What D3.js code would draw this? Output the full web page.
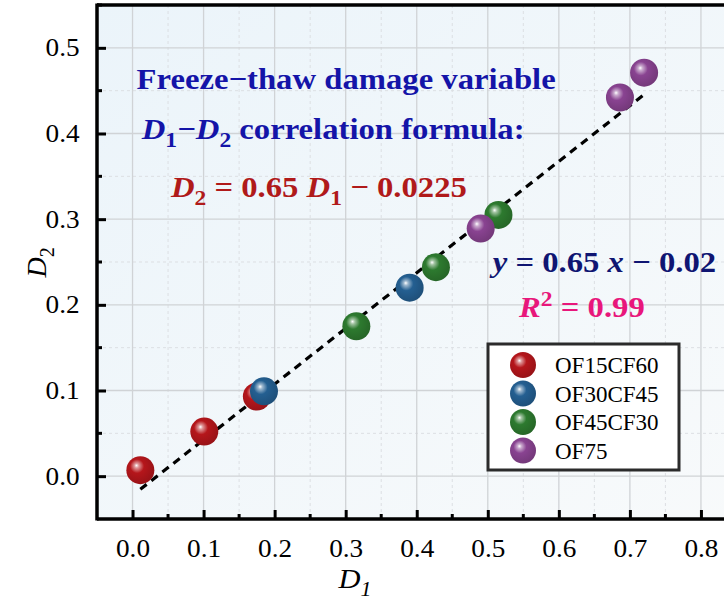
<!DOCTYPE html>
<html>
<head>
<meta charset="utf-8">
<script src="https://cdn.jsdelivr.net/npm/d3@7"></script>
<style>
  body { margin: 0; background: #fff; }
  svg text { font-family: 'Liberation Serif'; }
</style>
</head>
<body>
<script>
// data
var groups = ["OF15CF60", "OF30CF45", "OF45CF30", "OF75"];
var colors = ["#b5161b", "#245f91", "#2d7a2f", "#894391"];
var d1_OF15CF60 = [0.011, 0.101, 0.175];
var d2_OF15CF60 = [0.007, 0.052, 0.093];
var d1_OF30CF45 = [0.185, 0.39];
var d2_OF30CF45 = [0.099, 0.22];
var d1_OF45CF30 = [0.315, 0.427, 0.515];
var d2_OF45CF30 = [0.175, 0.244, 0.305];
var d1_OF75 = [0.49, 0.686, 0.72];
var d2_OF75 = [0.289, 0.442, 0.471];
var xTicks = [0, 0.1, 0.2, 0.3, 0.4, 0.5, 0.6, 0.7, 0.8];
var yTicks = [0, 0.1, 0.2, 0.3, 0.4, 0.5];
var slope = 0.65, intercept = -0.0225;

var series = [
  { name: groups[0], x: d1_OF15CF60, y: d2_OF15CF60 },
  { name: groups[1], x: d1_OF30CF45, y: d2_OF30CF45 },
  { name: groups[2], x: d1_OF45CF30, y: d2_OF45CF30 },
  { name: groups[3], x: d1_OF75, y: d2_OF75 }
];

var FONT = "Liberation Serif";
var SX = 1.09; // the original text is a bit wide
var W = 724, H = 602;
var margin = { left: 97, top: 5, right: -48, bottom: 83 };
var width = W - margin.left - margin.right,
  height = H - margin.top - margin.bottom;

var svg = d3.select("body").append("svg")
  .attr("width", W).attr("height", H)
  .attr("font-family", FONT);

var defs = svg.append("defs");
var bg = defs.append("linearGradient").attr("id", "bg")
  .attr("x1", "0%").attr("y1", "0%").attr("x2", "100%").attr("y2", "100%");
bg.append("stop").attr("offset", "0%").attr("stop-color", "#ebf4fa");
bg.append("stop").attr("offset", "100%").attr("stop-color", "#f8fafb");

groups.forEach(function (g, i) {
  var c = d3.color(colors[i]);
  var rg = defs.append("radialGradient").attr("id", "ball" + i)
    .attr("cx", "0.42").attr("cy", "0.4").attr("r", "0.62")
    .attr("fx", "0.36").attr("fy", "0.33");
  rg.append("stop").attr("offset", "0").attr("stop-color", "#ffffff");
  rg.append("stop").attr("offset", "0.13").attr("stop-color", d3.interpolateRgb("#fff", c)(0.45));
  rg.append("stop").attr("offset", "0.4").attr("stop-color", c.formatHex());
  rg.append("stop").attr("offset", "1").attr("stop-color", c.darker(0.5).formatHex());
});

var g = svg.append("g")
  .attr("transform", "translate(" + margin.left + "," + margin.top + ")");

var x = d3.scaleLinear().domain([-0.05, 0.9]).range([0, width]);
var y = d3.scaleLinear().domain([-0.05, 0.55]).range([height, 0]);

g.append("rect").attr("width", width).attr("height", height).attr("fill", "url(#bg)");

// grid
var minorX = d3.range(-0.05, 0.9, 0.1), minorY = d3.range(-0.05, 0.55, 0.1);
g.append("g").selectAll("line").data(minorX).enter().append("line")
  .attr("x1", x).attr("x2", x).attr("y1", 0).attr("y2", height)
  .attr("stroke", "#dcdfe3").attr("stroke-dasharray", "3,3");
g.append("g").selectAll("line").data(minorY).enter().append("line")
  .attr("y1", y).attr("y2", y).attr("x1", 0).attr("x2", width)
  .attr("stroke", "#dcdfe3").attr("stroke-dasharray", "3,3");
g.append("g").selectAll("line").data(xTicks).enter().append("line")
  .attr("x1", x).attr("x2", x).attr("y1", 0).attr("y2", height)
  .attr("stroke", "#d0d3d6").attr("stroke-width", 1.3);
g.append("g").selectAll("line").data(yTicks).enter().append("line")
  .attr("y1", y).attr("y2", y).attr("x1", 0).attr("x2", width)
  .attr("stroke", "#d0d3d6").attr("stroke-width", 1.3);

// axes (ticks pointing inward)
var xAxis = g.append("g").attr("transform", "translate(0," + height + ")")
  .call(d3.axisBottom(x).tickValues(xTicks).tickFormat(d3.format(".1f"))
    .tickSizeInner(-9).tickSizeOuter(0).tickPadding(20));
var yAxis = g.append("g")
  .call(d3.axisLeft(y).tickValues(yTicks).tickFormat(d3.format(".1f"))
    .tickSizeInner(-9).tickSizeOuter(0).tickPadding(16));
[xAxis, yAxis].forEach(function (a) {
  a.attr("font-family", FONT);
  a.select(".domain").remove();
  a.selectAll("line").attr("stroke", "#000").attr("stroke-width", 3);
  a.selectAll("text").attr("font-size", 25).attr("fill", "#000")
    .attr("font-family", FONT)
    .attr("transform", "scale(" + SX + ",1)");
});
// minor ticks
g.append("g").selectAll("line").data(minorX.slice(1)).enter().append("line")
  .attr("x1", x).attr("x2", x).attr("y1", height).attr("y2", height - 5)
  .attr("stroke", "#000").attr("stroke-width", 3);
g.append("g").selectAll("line").data(minorY.slice(1)).enter().append("line")
  .attr("y1", y).attr("y2", y).attr("x1", 0).attr("x2", 5)
  .attr("stroke", "#000").attr("stroke-width", 3);

// frame
g.append("line").attr("x1", 0).attr("x2", 0).attr("y1", -1.5).attr("y2", height + 1.5)
  .attr("stroke", "#000").attr("stroke-width", 3.5);
g.append("line").attr("x1", 0).attr("x2", width).attr("y1", height).attr("y2", height)
  .attr("stroke", "#000").attr("stroke-width", 3.5);
g.append("line").attr("x1", 0).attr("x2", width).attr("y1", 0).attr("y2", 0)
  .attr("stroke", "#000").attr("stroke-width", 3.5);

// fit line
var allX = [].concat(d1_OF15CF60, d1_OF30CF45, d1_OF45CF30, d1_OF75);
var xr = d3.extent(allX);
g.append("line")
  .attr("x1", x(xr[0])).attr("y1", y(slope * xr[0] + intercept))
  .attr("x2", x(xr[1])).attr("y2", y(slope * xr[1] + intercept))
  .attr("stroke", "#000").attr("stroke-width", 3.2).attr("stroke-dasharray", "8,6");

// points
series.forEach(function (s, i) {
  g.append("g").selectAll("circle").data(s.x).enter().append("circle")
    .attr("cx", function (d) { return x(d); })
    .attr("cy", function (d, j) { return y(s.y[j]); })
    .attr("r", 14)
    .attr("fill", "url(#ball" + i + ")");
});

// annotations
function richText(parent, px, py, parts, rot) {
  var sel = parent.append("text")
    .attr("transform", "translate(" + px + "," + py + ")" + (rot ? " rotate(-90)" : " scale(" + SX + ",1)"))
    .attr("font-family", FONT);
  parts.forEach(function (p) {
    var t = sel.append("tspan").text(p.t);
    if (p.i) t.attr("font-style", "italic");
    if (p.sub) t.attr("dy", 8).attr("font-size", "0.72em");
    if (p.sup) t.attr("dy", -11).attr("font-size", "0.72em");
    if (p.back) t.attr("dy", p.back);
  });
  return sel;
}
richText(g, x(0.0) + 4, 84, [{ t: "Freeze\u2212thaw damage variable" }])
  .attr("font-size", 30).attr("font-weight", "bold").attr("fill", "#1414a8");
richText(g, x(0.013), 134, [{ t: "D", i: true }, { t: "1", sub: true }, { t: "\u2212", back: -8 }, { t: "D", i: true },
  { t: "2", sub: true }, { t: " correlation formula:", back: -8 }])
  .attr("font-size", 30).attr("font-weight", "bold").attr("fill", "#1414a8");
richText(g, x(0.054), 192, [{ t: "D", i: true }, { t: "2", sub: true }, { t: " = 0.65 ", back: -8 }, { t: "D", i: true },
  { t: "1", sub: true }, { t: " \u2212 0.0225", back: -8 }])
  .attr("font-size", 30).attr("font-weight", "bold").attr("fill", "#b01a1a");
richText(g, x(0.507), 267, [{ t: "y", i: true }, { t: " = 0.65 " }, { t: "x", i: true }, { t: " \u2212 0.02" }])
  .attr("font-size", 30).attr("font-weight", "bold").attr("fill", "#0f1572");
richText(g, x(0.544), 312, [{ t: "R", i: true }, { t: "2", sup: true }, { t: " = 0.99", back: 11 }])
  .attr("font-size", 30).attr("font-weight", "bold").attr("fill", "#e8177b");

// legend
var lg = svg.append("g").attr("transform", "translate(488,344)");
lg.append("rect").attr("width", 191).attr("height", 126)
  .attr("fill", "#fff").attr("stroke", "#2b2b2b").attr("stroke-width", 3);
groups.forEach(function (name, i) {
  var row = lg.append("g").attr("transform", "translate(0," + (21 + i * 28.5) + ")");
  row.append("circle").attr("cx", 35).attr("cy", 0).attr("r", 13)
    .attr("fill", "url(#ball" + i + ")");
  row.append("text").attr("x", 67).attr("y", 8).attr("font-size", 23)
    .attr("font-family", FONT).attr("fill", "#000").text(name);
});

// axis titles
richText(svg, margin.left + x(0.29), 588, [{ t: "D", i: true }, { t: "1", sub: true, i: true }])
  .attr("font-size", 28).attr("fill", "#000");
richText(svg, 46, margin.top + y(0.232), [{ t: "D", i: true }, { t: "2", sub: true }], true)
  .attr("font-size", 28).attr("fill", "#000");
</script>
</body>
</html>
